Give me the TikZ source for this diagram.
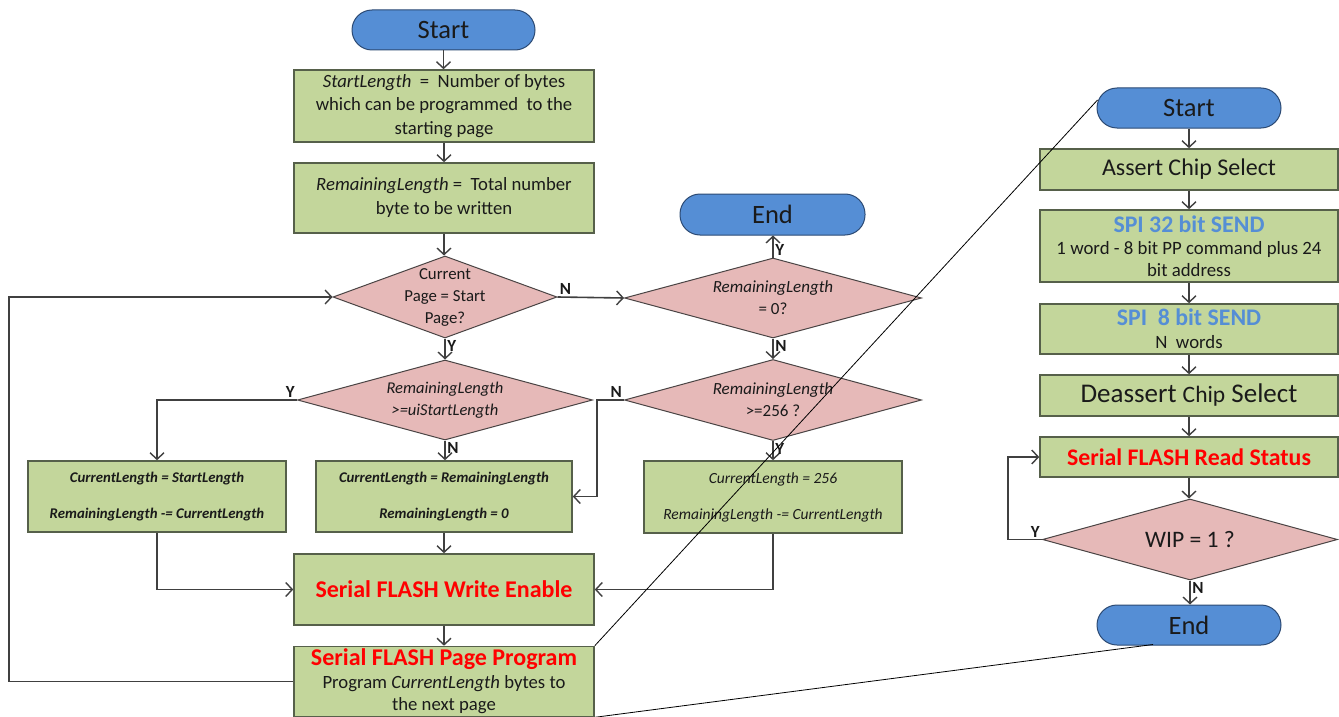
\documentclass[tikz,border=0pt]{standalone}
\usepackage{fontspec}
\setmainfont{Carlito}
\usetikzlibrary{shapes.geometric, arrows.meta, calc}

\definecolor{boxfill}{HTML}{C3D69B}
\definecolor{boxline}{HTML}{56604A}
\definecolor{diafill}{HTML}{E6B9B8}
\definecolor{dialine}{HTML}{4A4444}
\definecolor{pillfill}{HTML}{558ED5}
\definecolor{pillline}{HTML}{2C4A74}
\definecolor{flowclr}{HTML}{404040}
\definecolor{spiblue}{HTML}{558ED5}
\definecolor{txt}{HTML}{1A1A1A}

\newcommand{\fs}[2]{\fontsize{#1}{#2}\selectfont}

\tikzset{
  box/.style={draw=boxline, fill=boxfill, line width=1.6pt, inner sep=0pt,
              align=center, text=txt},
  dia/.style={diamond, draw=dialine, fill=diafill, line width=1pt, inner sep=0pt},
  diatext/.style={align=center, text=txt},
  pill/.style={draw=pillline, fill=pillfill, line width=1pt, rounded corners=20pt,
               inner sep=0pt, text=txt, font=\fs{26.5}{30}},
  flow/.style={draw=flowclr, line width=1.6pt,
               -{Straight Barb[length=6.5pt,width=14pt,line width=1.4pt]}},
  lbl/.style={font=\fs{17}{19}\bfseries, text=txt, inner sep=1.5pt},
  callout/.style={draw=black, line width=0.8pt},
}

\begin{document}
\begin{tikzpicture}[x=1pt, y=-1pt]
  \fill[white] (0,0) rectangle (1339,717);
  \useasboundingbox (0,0) rectangle (1339,717);

  % ---------- main page-write loop ----------
  \node[pill, minimum width=183pt, minimum height=40pt] (s1) at (443.5,30) {Start};
  \node[box, minimum width=300pt, minimum height=72pt, font=\fs{18.7}{23.5}] (b1) at (444,106)
    {\raisebox{0pt}[0pt][0pt]{}\textit{StartLength}\ \ =\ \ Number of bytes\\which can be programmed\ \ to the\\starting page};
  \node[box, minimum width=300pt, minimum height=70pt, font=\fs{18.7}{24}] (b2) at (444,198)
    {\textit{RemainingLength} =\ \ Total number\\byte to be written};

  \node[dia, minimum width=224pt, minimum height=82pt,
        label={[diatext, font=\fs{16.8}{22}]center:Current\\Page = Start\\Page?}] (d1) at (445,297) {};
  \node[pill, minimum width=185pt, minimum height=41pt] (e1) at (772.5,214.5) {End};
  \node[dia, minimum width=297pt, minimum height=80pt,
        label={[diatext, font=\fs{17}{22}]center:\textit{RemainingLength}\\= 0?}] (d2) at (773,298) {};
  \node[dia, minimum width=295pt, minimum height=80pt,
        label={[diatext, font=\fs{16.5}{22}\itshape]center:RemainingLength\\>=uiStartLength}] (d3) at (445,400) {};
  \node[dia, minimum width=297pt, minimum height=81pt,
        label={[diatext, font=\fs{17}{22}]center:\textit{RemainingLength}\\>=256 ?}] (d4) at (773,400) {};

  \node[box, minimum width=258pt, minimum height=71pt, font=\fs{14.8}{36}\bfseries\itshape] (bl) at (157,496.5)
    {CurrentLength = StartLength\\RemainingLength -= CurrentLength};
  \node[box, minimum width=256pt, minimum height=71pt, font=\fs{14.8}{36}\bfseries\itshape] (bm) at (444,496.5)
    {CurrentLength = RemainingLength\\RemainingLength = 0};
  \node[box, minimum width=258pt, minimum height=72pt, font=\fs{15.5}{36}\itshape] (br) at (773,497)
    {CurrentLength = 256\\RemainingLength -= CurrentLength};

  \node[box, minimum width=300pt, minimum height=71pt, font=\fs{24}{28}\bfseries, text=red] (we) at (444,589.5)
    {Serial FLASH Write Enable};
  \node[box, minimum width=300pt, minimum height=70pt, font=\fs{18.7}{22.5}] (pp) at (444,681.5)
    {{\fs{24}{28}\bfseries\color{red}Serial FLASH Page Program}\\Program \textit{CurrentLength} bytes to\\the next page};

  \draw[flow] (s1.south) -- (s1.south |- b1.north);
  \draw[flow] (b1.south) -- (b1.south |- b2.north);
  \draw[flow] (b2.south) -- (b2.south |- d1.north);
  \draw[flow] (d1.east) -- node[pos=0, lbl, above right] {N} (d2.west);
  \draw[flow] (d1.south) -- node[pos=0, lbl, below right] {Y} (d1.south |- d3.north);
  \draw[flow] (d2.north) -- node[pos=0, lbl, above right] {Y} (d2.north |- e1.south);
  \draw[flow] (d2.south) -- node[pos=0, lbl, below right] {N} (d2.south |- d4.north);
  \draw[flow] (d3.west) -| node[pos=0, lbl, above left] {Y} (bl.north);
  \draw[flow] (d3.south) -- node[pos=0, lbl, below right] {N} (d3.south |- bm.north);
  \draw[flow] (d4.west) -- node[pos=0, lbl, above left] {N} ++(-27,0) |- (bm.east);
  \draw[flow] (d4.south) -- node[pos=0, lbl, below right] {Y} (d4.south |- br.north);
  \draw[flow] (bl.south) |- (we.west);
  \draw[flow] (bm.south) -- (bm.south |- we.north);
  \draw[flow] (br.south) |- (we.east);
  \draw[flow] (we.south) -- (we.south |- pp.north);
  \draw[flow] (pp.west) -- ++(-284,0) |- (d1.west);

  % ---------- page program detail ----------
  \node[pill, minimum width=184pt, minimum height=40pt] (s2) at (1189,108) {Start};
  \node[box, minimum width=298pt, minimum height=41pt, font=\fs{24}{28}] (ac) at (1189,169.5)
    {Assert Chip Select};
  \node[box, minimum width=298pt, minimum height=72pt, font=\fs{18.8}{22}] (spa) at (1189,246)
    {{\fs{23.8}{27}\bfseries\color{spiblue}SPI 32 bit SEND}\\1 word - 8 bit PP command plus 24\\bit address};
  \node[box, minimum width=298pt, minimum height=50pt, font=\fs{18.8}{23}] (spb) at (1189,329)
    {{\fs{23.8}{27}\bfseries\color{spiblue}SPI\ \ 8 bit SEND}\\N\ \ words};
  \node[box, minimum width=298pt, minimum height=41pt, font=\fs{27}{30}] (da) at (1189,395.5)
    {Deassert {\fs{23.5}{27}Chip} Select};
  \node[box, minimum width=298pt, minimum height=40pt, font=\fs{23.8}{27}\bfseries, text=red] (rs) at (1189,457)
    {Serial FLASH Read Status};
  \node[dia, minimum width=295pt, minimum height=81pt,
        label={[diatext, font=\fs{23.6}{27}]center:WIP = 1 ?}] (wip) at (1190,539.5) {};
  \node[pill, minimum width=184pt, minimum height=40pt] (e2) at (1189,625) {End};

  \draw[flow] (s2.south) -- (s2.south |- ac.north);
  \draw[flow] (ac.south) -- (ac.south |- spa.north);
  \draw[flow] (spa.south) -- (spa.south |- spb.north);
  \draw[flow] (spb.south) -- (spb.south |- da.north);
  \draw[flow] (da.south) -- (da.south |- rs.north);
  \draw[flow] (rs.south) -- (rs.south |- wip.north);
  \draw[flow] (wip.south) -- node[pos=0, lbl, below right] {N} (wip.south |- e2.north);
  \draw[flow] (wip.west) -- node[pos=0, lbl, above left] {Y} ++(-34,0) |- (rs.west);

  % ---------- callout lines ----------
  \draw[callout] (pp.north east) -- ($(s2.west)+(1,-8)$);
  \draw[callout] (pp.south east) -- ($(e2.south)+(-36,-1)$);
\end{tikzpicture}
\end{document}
